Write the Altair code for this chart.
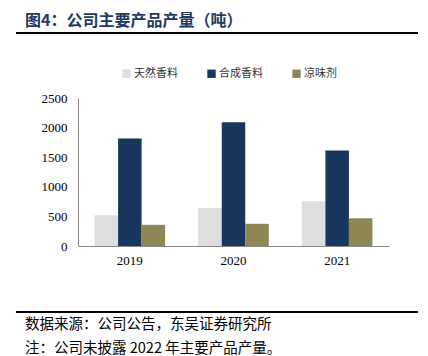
import altair as alt
import pandas as pd

years = ["2019", "2020", "2021"]
series = ["天然香料", "合成香料", "凉味剂"]
natural = [519, 643, 754]
synthetic = [1816, 2089, 1615]
cooling = [358, 375, 469]
colors = ["#dedede", "#17375e", "#8e8654"]
y_ticks = [0, 500, 1000, 1500, 2000, 2500]

title_text = "图4：公司主要产品产量（吨）"
footer1 = "数据来源：公司公告，东吴证券研究所"
footer2 = "注：公司未披露 2022 年主要产品产量。"

rows = []
for i, y in enumerate(years):
    for s, vals in zip(series, [natural, synthetic, cooling]):
        rows.append({"year": y, "series": s, "value": vals[i]})
df = pd.DataFrame(rows)

W, H = 311, 148
CJK = "Noto Sans CJK SC"
SERIF = "Liberation Serif"

bars = alt.Chart(df).mark_bar().encode(
    x=alt.X("year:N", sort=years, title=None,
            scale=alt.Scale(paddingInner=0.32, paddingOuter=0.16),
            axis=alt.Axis(labelAngle=0, labelFont=SERIF, labelFontSize=13,
                          labelColor="#000", labelPadding=8, ticks=False,
                          domainColor="#888", domainWidth=1)),
    xOffset=alt.XOffset("series:N", sort=series, scale=alt.Scale(paddingInner=0, paddingOuter=0)),
    y=alt.Y("value:Q", title=None,
            scale=alt.Scale(domain=[0, 2500], nice=False),
            axis=alt.Axis(values=y_ticks, format="d", grid=False, ticks=False, labelFont=SERIF,
                          labelFontSize=13, labelColor="#000", labelPadding=11,
                          domainColor="#888", domainWidth=1)),
    color=alt.Color("series:N", sort=series,
                    scale=alt.Scale(domain=series, range=colors),
                    legend=alt.Legend(title=None, orient="none", direction="horizontal",
                                      legendX=43, legendY=-30, symbolType="square",
                                      symbolSize=70, symbolStrokeWidth=0,
                                      labelFont=CJK, labelFontSize=11, labelColor="#333",
                                      columnPadding=28, labelOffset=2)),
)

def text_layer(txt, x, y, size, color, weight="normal"):
    return alt.Chart(pd.DataFrame({"t": [txt]})).mark_text(
        align="left", baseline="middle", font=CJK, fontSize=size,
        color=color, fontWeight=weight
    ).encode(text="t:N", x=alt.value(x), y=alt.value(y))

title = text_layer(title_text, -53, -77.5, 16, "#1f3864", "bold")
f1 = text_layer(footer1, -53, 227, 14.5, "#000")
f2 = text_layer(footer2, -53, 251, 14.5, "#000")

rule_df = pd.DataFrame({"a": [0]})
top_rule = alt.Chart(rule_df).mark_rule(color="#000", strokeWidth=2).encode(
    x=alt.value(-62), x2=alt.value(340), y=alt.value(-65))
bot_rule = alt.Chart(rule_df).mark_rule(color="#000", strokeWidth=2).encode(
    x=alt.value(-62), x2=alt.value(340), y=alt.value(214))

chart = alt.layer(bars, title, f1, f2, top_rule, bot_rule).properties(
    width=W, height=H,
    autosize=alt.AutoSizeParams(type="none"),
    padding={"left": 70, "top": 90, "right": 31, "bottom": 110},
).configure_view(stroke=None)

chart.save("out.html", embed_options={"renderer": "svg", "actions": False})
